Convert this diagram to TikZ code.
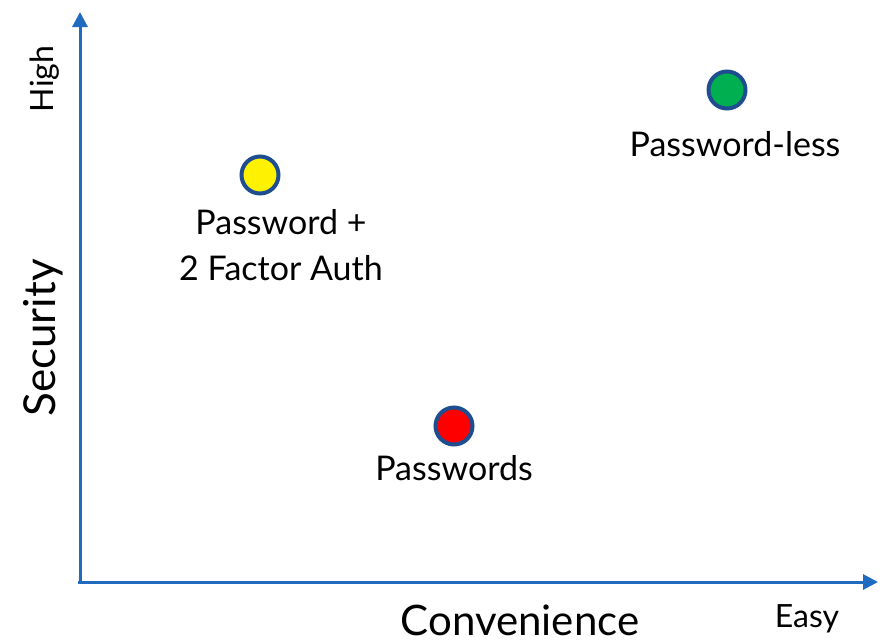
\documentclass[tikz,border=0pt]{standalone}
\usepackage{fontspec}
\setmainfont{Lato}
\usetikzlibrary{arrows.meta}
\definecolor{axisblue}{HTML}{1F6BC0}
\definecolor{ringblue}{HTML}{1F4E90}
\definecolor{dotgreen}{HTML}{00B050}
\tikzset{
  axis/.style={draw=axisblue, line width=3pt, -{Triangle[length=15pt,width=15pt]}},
  dot/.style={circle, draw=ringblue, line width=4pt, minimum size=37pt, inner sep=0pt},
  lbl/.style={inner sep=0pt, align=center, text=black}
}
\begin{document}
\begin{tikzpicture}[x=1pt,y=-1pt]
\useasboundingbox (0,0) rectangle (888,643);
\coordinate (origin) at (80,582);
\coordinate (ytip) at (80,12);
\coordinate (xtip) at (878,582);
\coordinate (xstart) at (78,582);
\draw[axis] (origin) -- (ytip);
\draw[axis] (xstart) -- (xtip);

\node[lbl, rotate=90, font=\fontsize{32}{38}\selectfont] (high) at (45,79) {High};
\node[lbl, rotate=90, font=\fontsize{44}{50}\selectfont] (sec) at (43,338) {Security};
\node[lbl, font=\fontsize{42}{48}\selectfont] (conv) at (520,620) {Convenience};
\node[lbl, font=\fontsize{32}{38}\selectfont] (easy) at (807,619) {Easy};

\node[dot, fill=yellow] (d2fa) at (260,175) {};
\node[dot, fill=dotgreen] (dpl) at (727,90) {};
\node[dot, fill=red] (dpw) at (454,426) {};

\node[lbl, font=\fontsize{34}{46}\selectfont] (t2fa) at (281,245) {Password +\\2 Factor Auth};
\node[lbl, font=\fontsize{34}{40}\selectfont] (tpl) at (735,144) {Password-less};
\node[lbl, font=\fontsize{34}{40}\selectfont] (tpw) at (454,468) {Passwords};
\end{tikzpicture}
\end{document}
